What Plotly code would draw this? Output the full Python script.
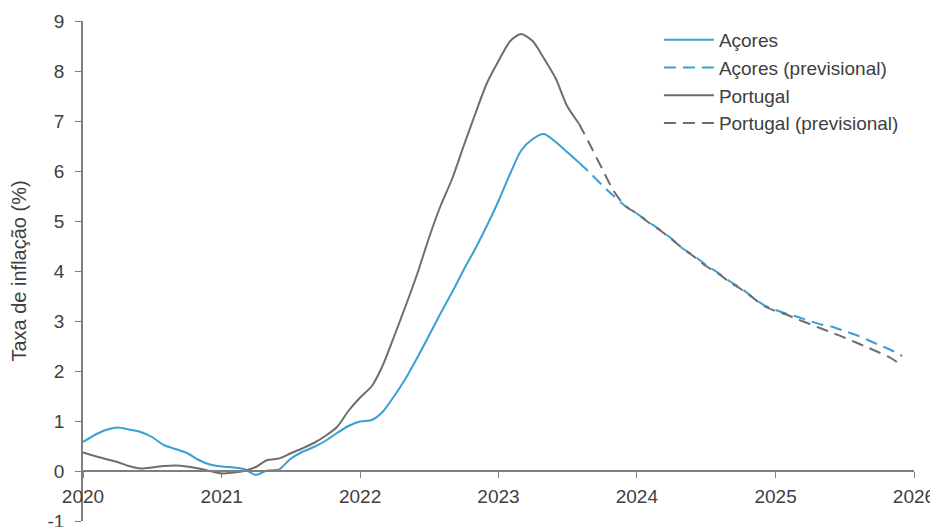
import pandas as pd
import plotly.graph_objects as go

# Monthly dates Jan 2020 .. Dec 2025
dates = pd.date_range("2020-01-01", periods=72, freq="MS")

acores_obs = [0.58, 0.72, 0.82, 0.87, 0.83, 0.78, 0.68, 0.52, 0.44, 0.36, 0.22, 0.13,
              0.09, 0.07, 0.04, -0.08, 0.01, 0.03, 0.24, 0.38, 0.48, 0.60, 0.76, 0.90,
              0.99, 1.02, 1.18, 1.50, 1.85, 2.27, 2.70, 3.15, 3.58, 4.02, 4.45, 4.90,
              5.40, 5.95, 6.40, 6.64, 6.74, 6.58, 6.38, 6.17]
acores_prev = [6.17, 5.95, 5.72, 5.50, 5.30, 5.15, 4.98, 4.83, 4.65, 4.45, 4.30, 4.12,
               3.97, 3.80, 3.66, 3.48, 3.32, 3.22, 3.14, 3.08, 3.00, 2.93, 2.88, 2.80,
               2.72, 2.62, 2.52, 2.42, 2.30]

portugal_obs = [0.37, 0.30, 0.24, 0.18, 0.10, 0.05, 0.07, 0.10, 0.11, 0.09, 0.05, 0.00,
                -0.05, -0.03, 0.00, 0.08, 0.22, 0.25, 0.35, 0.45, 0.56, 0.70, 0.88, 1.20,
                1.47, 1.70, 2.10, 2.70, 3.30, 3.95, 4.65, 5.30, 5.85, 6.50, 7.15, 7.75,
                8.20, 8.60, 8.74, 8.60, 8.25, 7.85, 7.30, 6.95]
portugal_prev = [6.95, 6.50, 6.05, 5.60, 5.30, 5.15, 4.97, 4.82, 4.64, 4.45, 4.28, 4.10,
                 3.96, 3.78, 3.64, 3.47, 3.30, 3.20, 3.12, 3.03, 2.94, 2.85, 2.76, 2.67,
                 2.57, 2.47, 2.37, 2.26, 2.10]

y_tick_vals = [-1, 0, 1, 2, 3, 4, 5, 6, 7, 8, 9]
y_tick_text = ["-1", "0", "1", "2", "3", "4", "5", "6", "7", "8", "9"]

obs_dates = dates[:len(acores_obs)]
prev_dates = dates[len(acores_obs) - 1:]

BLUE = "#3a9fd5"
GRAY = "#6e6e6e"
TXT = "#404040"
AX = "#7f7f7f"
FONT = "Liberation Sans, Arial, sans-serif"
DASH = "12px,7px"

fig = go.Figure()
fig.add_trace(go.Scatter(x=obs_dates, y=acores_obs, name="Açores", mode="lines",
                         line=dict(color=BLUE, width=2, shape="spline", smoothing=0.7)))
fig.add_trace(go.Scatter(x=prev_dates, y=acores_prev, name="Açores (previsional)", mode="lines",
                         line=dict(color=BLUE, width=2, dash=DASH, shape="spline", smoothing=0.7)))
fig.add_trace(go.Scatter(x=obs_dates, y=portugal_obs, name="Portugal", mode="lines",
                         line=dict(color=GRAY, width=2, shape="spline", smoothing=0.7)))
fig.add_trace(go.Scatter(x=prev_dates, y=portugal_prev, name="Portugal (previsional)", mode="lines",
                         line=dict(color=GRAY, width=2, dash=DASH, shape="spline", smoothing=0.7)))

# page body has an 8px default margin, so the figure is sized/offset to compensate
fig.update_layout(
    width=930, height=519,
    margin=dict(l=75, r=24, t=13, b=6, autoexpand=False),
    paper_bgcolor="white", plot_bgcolor="white",
    font=dict(family=FONT, size=19, color=TXT),
    showlegend=True,
    legend=dict(x=0.693, y=1.0, xanchor="left", yanchor="top",
                bgcolor="rgba(0,0,0,0)", itemwidth=50,
                font=dict(family=FONT, size=19, color=TXT), tracegroupgap=0),
    xaxis=dict(
        type="date",
        range=["2020-01-01", "2026-01-01"],
        tick0="2020-01-01", dtick="M12", tickformat="%Y",
        showgrid=False, zeroline=False, automargin=False,
        showline=True, linecolor=AX, linewidth=1.5,
        ticks="outside", ticklen=6, tickcolor=AX, tickwidth=1.2,
        ticklabelstandoff=2, ticklabeloverflow="allow",
        anchor="free", position=0.1,
        tickfont=dict(family=FONT, size=19, color=TXT),
    ),
    yaxis=dict(
        range=[-1, 9], tickmode="array", tickvals=y_tick_vals, ticktext=y_tick_text,
        showgrid=False, zeroline=False, automargin=False,
        showline=True, linecolor=AX, linewidth=1.5,
        ticks="outside", ticklen=6, tickcolor=AX, tickwidth=1.2,
        ticklabelstandoff=7, ticklabeloverflow="allow",
        tickfont=dict(family=FONT, size=19, color=TXT),
        title=dict(text="Taxa de inflação (%)", font=dict(family=FONT, size=20, color=TXT),
                   standoff=21),
    ),
)

fig.write_html("out.html")
